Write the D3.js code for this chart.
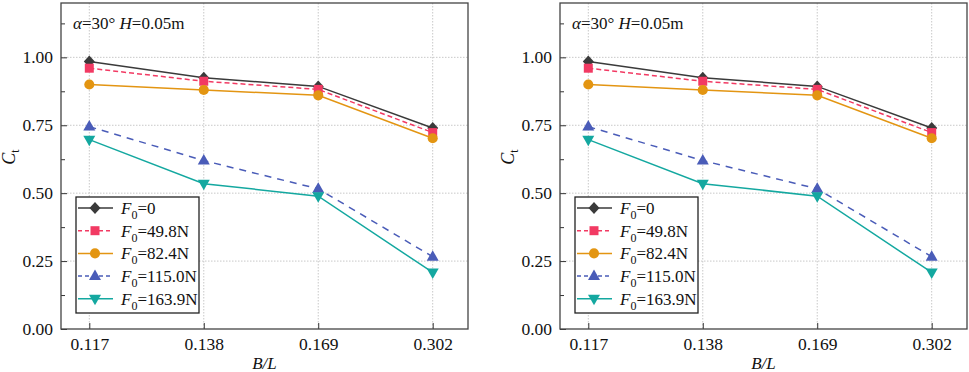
<!DOCTYPE html>
<html>
<head>
<meta charset="utf-8">
<script src="https://cdn.jsdelivr.net/npm/d3@7"></script>
<style>
  body { margin: 0; background: #fff; }
  svg { display: block; font-family: "Liberation Serif", "Times New Roman", serif; }
</style>
</head>
<body>
<svg id="chart" width="969" height="372"></svg>
<script>
// B/L categories and Ct values
const ratios = ["0.117", "0.138", "0.169", "0.302"];
const yTicks = [0, 0.25, 0.5, 0.75, 1.0];
const forceLabels = ["0", "49.8N", "82.4N", "115.0N", "163.9N"];
const ct_F0 = [0.985, 0.925, 0.893, 0.740];
const ct_F49 = [0.960, 0.912, 0.882, 0.723];
const ct_F82 = [0.900, 0.880, 0.860, 0.702];
const ct_F115 = [0.745, 0.620, 0.516, 0.266];
const ct_F163 = [0.697, 0.535, 0.489, 0.208];

const series = [
    { name: forceLabels[0], values: ct_F0, color: "#3a3a3a", dash: null, symbol: "diamond" },
    { name: forceLabels[1], values: ct_F49, color: "#f23a63", dash: "5,3", symbol: "square" },
    { name: forceLabels[2], values: ct_F82, color: "#e39512", dash: null, symbol: "circle" },
    { name: forceLabels[3], values: ct_F115, color: "#4a5cb8", dash: "7,6", symbol: "triangle" },
    { name: forceLabels[4], values: ct_F163, color: "#14a8a0", dash: null, symbol: "down" }
];

function symbolPath(kind) {
    if (kind == "diamond") return "M0,-6L5.5,0L0,6L-5.5,0Z";
    if (kind == "square") return "M-4.5,-4.5H4.5V4.5H-4.5Z";
    if (kind == "triangle") return "M0,-6.5L6,4L-6,4Z";
    if (kind == "down") return "M0,6.5L6,-4L-6,-4Z";
    return d3.symbol(d3.symbolCircle, 80)();
}

let svg = d3.select("#chart");
let fLeft = 61, fRight = 468, fTop = 3, fBottom = 329;

let x = d3.scalePoint().domain(ratios).range([89.3, 432.7]);
let y = d3.scaleLinear().domain([0, 1.2]).range([fBottom, fTop]);

function drawPanel(offset) {
    let g = svg.append("g").attr("transform", `translate(${offset},0)`);

    // dotted grid
    g.selectAll(".hgrid").data(yTicks.slice(1)).enter().append("line")
        .attr("x1", fLeft).attr("x2", fRight)
        .attr("y1", d => y(d)).attr("y2", d => y(d))
        .attr("stroke", "#c8c8c8").attr("stroke-width", 1).attr("stroke-dasharray", "1.5,1.5");
    g.selectAll(".vgrid").data(ratios).enter().append("line")
        .attr("x1", d => x(d)).attr("x2", d => x(d))
        .attr("y1", fTop).attr("y2", fBottom)
        .attr("stroke", "#c8c8c8").attr("stroke-width", 1).attr("stroke-dasharray", "1.5,1.5");

    // axes with inward ticks
    let yAxis = g.append("g").attr("transform", `translate(${fLeft},0)`)
        .call(d3.axisLeft(y).tickValues(yTicks).tickFormat(d3.format(".2f")).tickSize(-6).tickPadding(8));
    g.append("g").attr("transform", `translate(${fLeft},0)`)
        .call(d3.axisLeft(y).tickValues(d3.range(0.125, 1.2, 0.25)).tickFormat("").tickSize(-4))
        .select(".domain").remove();
    let xAxis = g.append("g").attr("transform", `translate(0,${fBottom})`)
        .call(d3.axisBottom(x).tickSize(-6).tickPadding(9));
    [yAxis, xAxis].forEach(a => {
        a.select(".domain").remove();
        a.selectAll("text").attr("font-size", 17.5).attr("fill", "#111")
            .attr("font-family", "Liberation Serif, Times New Roman, serif");
    });
    g.selectAll(".tick line").attr("stroke", "#333").attr("stroke-width", 1);

    // frame
    g.append("rect").attr("x", fLeft).attr("y", fTop)
        .attr("width", fRight - fLeft).attr("height", fBottom - fTop)
        .attr("fill", "none").attr("stroke", "#444").attr("stroke-width", 1.3);

    // lines + markers
    let line = d3.line().x((d, i) => x(ratios[i])).y(d => y(d));
    for (let s of series) {
        g.append("path").datum(s.values)
            .attr("d", line).attr("fill", "none")
            .attr("stroke", s.color).attr("stroke-width", 1.5)
            .attr("stroke-dasharray", s.dash);
        g.selectAll(null).data(s.values).enter().append("path")
            .attr("d", symbolPath(s.symbol))
            .attr("transform", (d, i) => `translate(${x(ratios[i])},${y(d)})`)
            .attr("fill", s.color);
    }

    // annotation
    let note = g.append("text").attr("x", 73).attr("y", 29).attr("font-size", 17).attr("fill", "#111");
    note.append("tspan").attr("font-style", "italic").text("α");
    note.append("tspan").text("=30° ");
    note.append("tspan").attr("font-style", "italic").text("H");
    note.append("tspan").text("=0.05m");

    // axis titles
    let yl = g.append("text").attr("transform", "translate(15,157) rotate(-90)")
        .attr("text-anchor", "middle").attr("font-size", 18).attr("fill", "#111");
    yl.append("tspan").attr("font-style", "italic").text("C");
    yl.append("tspan").attr("font-size", 12).attr("dy", 4).text("t");
    g.append("text").attr("x", (fLeft + fRight) / 2).attr("y", 369)
        .attr("text-anchor", "middle").attr("font-size", 17).attr("fill", "#111")
        .attr("font-style", "italic").text("B/L");

    // legend
    let lg = g.append("g");
    lg.append("rect").attr("x", 76).attr("y", 197).attr("width", 123).attr("height", 116)
        .attr("fill", "#fff").attr("stroke", "#222").attr("stroke-width", 1.3);
    series.forEach((s, i) => {
        let ly = 208 + i * 22.7;
        lg.append("line").attr("x1", 78).attr("x2", 113).attr("y1", ly).attr("y2", ly)
            .attr("stroke", s.color).attr("stroke-width", 1.5).attr("stroke-dasharray", s.dash ? "4,3" : null);
        lg.append("path").attr("d", symbolPath(s.symbol))
            .attr("transform", `translate(95,${ly})`).attr("fill", s.color);
        let t = lg.append("text").attr("x", 121).attr("y", ly + 6).attr("font-size", 17).attr("fill", "#111");
        t.append("tspan").attr("font-style", "italic").text("F");
        t.append("tspan").attr("font-size", 12).attr("dy", 5).text("0");
        t.append("tspan").attr("dy", -5).text("=" + s.name);
    });
}

drawPanel(0);
drawPanel(499);
</script>
</body>
</html>
